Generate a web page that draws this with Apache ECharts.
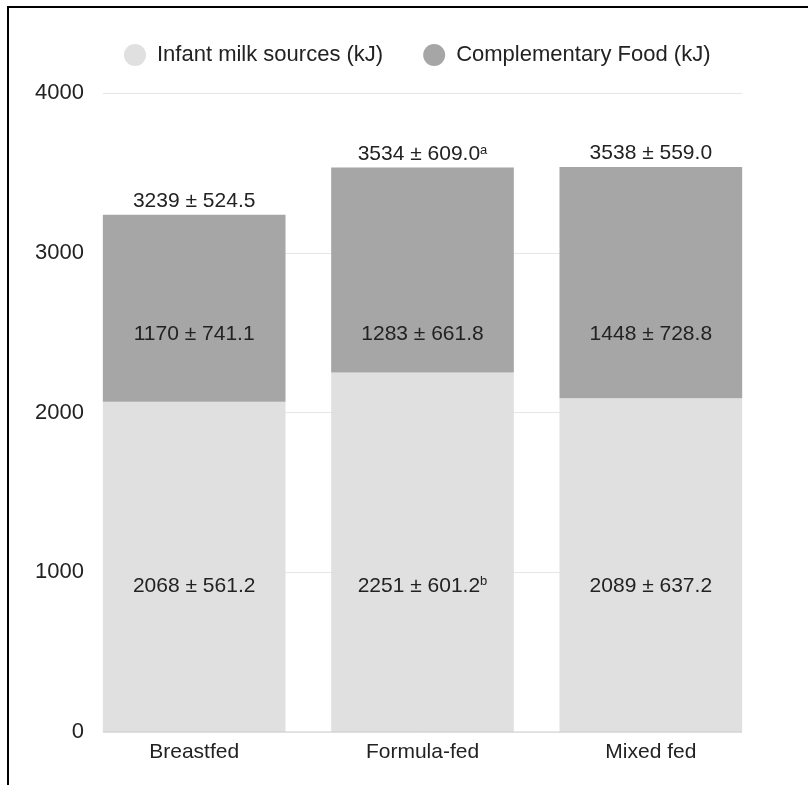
<!DOCTYPE html>
<html>
<head>
<meta charset="utf-8">
<script src="https://cdn.jsdelivr.net/npm/echarts@6/dist/echarts.min.js"></script>
<style>html,body{margin:0;padding:0;background:#fff;}#c{width:808px;height:785px;}</style>
</head>
<body>
<div id="c"></div>
<script>
const categories = ['Breastfed', 'Formula-fed', 'Mixed fed'];
const milk = [2068, 2251, 2089];
const milkSD = [561.2, 601.2, 637.2];
const milkSup = ['', 'b', ''];
const comp = [1170, 1283, 1448];
const compSD = [741.1, 661.8, 728.8];
const total = [3239, 3534, 3538];
const totalSD = [524.5, 609.0, 559.0];
const totalSup = ['', 'a', ''];
const yTicks = [0, 1000, 2000, 3000, 4000];
// value levels at which the in-bar annotations sit (same row for all bars)
const milkLabelLevel = 915;
const compLabelLevel = 2488;

const FONT = 'Liberation Sans';
const FS = 21;
const TFS = 22;
const LFS = 22;
const TXT = '#222';

function fmt(v, sd, sup) {
  let s = v + ' \u00b1 ' + sd.toFixed(1);
  if (sup) s += '{sup|' + sup + '}';
  return s;
}
const rich = { sup: { fontSize: 13, fontFamily: FONT, color: TXT, verticalAlign: 'top' } };

const chart = echarts.init(document.getElementById('c'), null, { renderer: 'canvas' });
function build(milkOff, compOff) {
  return {
    backgroundColor: '#fff',
    animation: false,
    textStyle: { fontFamily: FONT },
    legend: {
      top: 44, left: 124, padding: 0,
      icon: 'circle', itemWidth: 22, itemHeight: 22, itemGap: 40,
      textStyle: { fontFamily: FONT, fontSize: LFS, color: TXT, padding: [0, 0, 0, 6] },
      data: ['Infant milk sources (kJ)', 'Complementary Food (kJ)']
    },
    graphic: [
      { type: 'line', shape: { x1: 8, y1: 7, x2: 8, y2: 785 }, style: { stroke: '#000', lineWidth: 2 } },
      { type: 'line', shape: { x1: 7, y1: 7, x2: 808, y2: 7 }, style: { stroke: '#000', lineWidth: 2 } }
    ],
    grid: [
      { left: 103, right: 66, top: 93, bottom: 53 },
      { left: 80, right: 43, top: 93, bottom: 53 }
    ],
    xAxis: [
      { gridIndex: 0, type: 'value', min: 0, max: 1, axisLine: { show: false }, axisTick: { show: false }, axisLabel: { show: false }, splitLine: { show: false } },
      { gridIndex: 1, type: 'category', data: categories,
        axisLine: { show: false }, axisTick: { show: false },
        axisLabel: { fontFamily: FONT, fontSize: FS, color: TXT, margin: 10 } }
    ],
    yAxis: [
      { gridIndex: 0, type: 'value', min: yTicks[0], max: yTicks[yTicks.length - 1], interval: yTicks[1] - yTicks[0],
        axisLine: { show: false }, axisTick: { show: false },
        axisLabel: { fontFamily: FONT, fontSize: TFS, color: TXT, margin: 19, formatter: v => String(v) },
        splitLine: { lineStyle: { color: '#e6e6e6', width: 1 } } },
      { gridIndex: 1, type: 'value', min: yTicks[0], max: yTicks[yTicks.length - 1], interval: yTicks[1] - yTicks[0], show: false, splitLine: { show: false } }
    ],
    series: [
      { name: 'Infant milk sources (kJ)', type: 'bar', xAxisIndex: 1, yAxisIndex: 1, stack: 's',
        barCategoryGap: '20%',
        data: milk.map((v, i) => ({ value: v, label: { offset: [0, milkOff[i]] } })),
        itemStyle: { color: '#e0e0e0' },
        label: { show: true, position: 'inside', fontFamily: FONT, fontSize: FS, color: TXT, rich: rich,
          formatter: p => fmt(milk[p.dataIndex], milkSD[p.dataIndex], milkSup[p.dataIndex]) } },
      { name: 'Complementary Food (kJ)', type: 'bar', xAxisIndex: 1, yAxisIndex: 1, stack: 's',
        data: comp.map((v, i) => ({ value: v, label: { offset: [0, compOff[i]] } })),
        itemStyle: { color: '#a6a6a6' },
        label: { show: true, position: 'inside', fontFamily: FONT, fontSize: FS, color: TXT, rich: rich,
          formatter: p => fmt(comp[p.dataIndex], compSD[p.dataIndex], '') } },
      { name: 'total', type: 'scatter', xAxisIndex: 1, yAxisIndex: 1, data: total, symbolSize: 0,
        itemStyle: { opacity: 1 },
        label: { show: true, position: 'top', distance: 3, fontFamily: FONT, fontSize: FS, color: TXT, rich: rich,
          formatter: p => fmt(total[p.dataIndex], totalSD[p.dataIndex], totalSup[p.dataIndex]) } },
      { type: 'line', xAxisIndex: 0, yAxisIndex: 0, data: [[0, 0], [1, 0]], symbol: 'none', silent: true,
        lineStyle: { color: '#cccccc', width: 1 } }
    ]
  };
}
chart.setOption(build([0, 0, 0], [0, 0, 0]));
const py = v => chart.convertToPixel({ gridIndex: 1 }, [0, v])[1];
const milkOff = milk.map(v => py(milkLabelLevel) - (py(0) + py(v)) / 2);
const compOff = comp.map((v, i) => py(compLabelLevel) - (py(milk[i]) + py(milk[i] + v)) / 2);
chart.setOption(build(milkOff, compOff));
</script>
</body>
</html>
